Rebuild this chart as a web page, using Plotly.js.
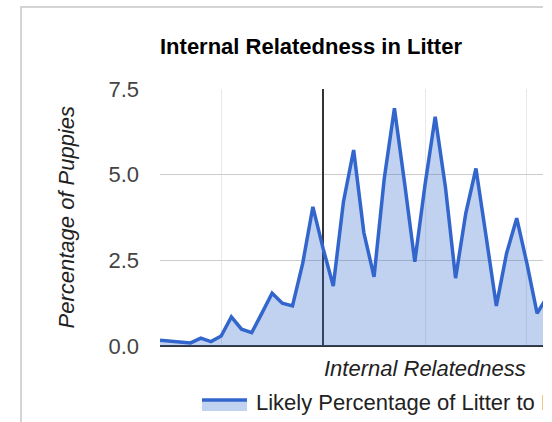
<!DOCTYPE html>
<html>
<head>
<meta charset="utf-8">
<script src="https://cdn.plot.ly/plotly-3.0.1.min.js"></script>
<style>
  html, body { margin: 0; padding: 0; background: #fff; }
  #clip { position: relative; width: 543px; height: 422px; overflow: hidden; }
  #chart { position: absolute; left: 0; top: 0; width: 720px; height: 422px; }
  #frame { position: absolute; left: 20px; top: 6px; width: 800px; height: 600px;
           border-left: 2px solid #d4d4d4; border-top: 2px solid #d4d4d4; pointer-events: none; }
</style>
</head>
<body>
<div id="clip">
  <div id="chart"></div>
  <div id="frame"></div>
</div>
<script>
// ---- data ----
const relatedness = [-0.16, -0.15, -0.14, -0.13, -0.12, -0.11, -0.10, -0.09, -0.08, -0.07,
                     -0.06, -0.05, -0.04, -0.03, -0.02, -0.01, 0.00, 0.01, 0.02, 0.03,
                     0.04, 0.05, 0.06, 0.07, 0.08, 0.09, 0.10, 0.11, 0.12, 0.13,
                     0.14, 0.15, 0.16, 0.17, 0.18, 0.19, 0.20, 0.21, 0.22];
const percentPuppies = [0.17, 0.15, 0.12, 0.09, 0.23, 0.13, 0.29, 0.85, 0.49, 0.39,
                        0.96, 1.54, 1.25, 1.17, 2.41, 4.06, 2.85, 1.75, 4.21, 5.72,
                        3.31, 2.02, 4.88, 6.94, 4.75, 2.46, 4.7, 6.69, 4.65, 1.98,
                        3.87, 5.18, 3.19, 1.17, 2.7, 3.73, 2.41, 0.95, 1.45];
const yTickVals = [0, 2.5, 5, 7.5];
const yTickText = ['0.0', '2.5', '5.0', '7.5'];
const chartTitle = 'Internal Relatedness in Litter';
const xTitle = 'Internal Relatedness';
const yTitle = 'Percentage of Puppies';
const seriesName = 'Likely Percentage of Litter to Have Internal Relatedness';

const FONT = 'Arial, "Liberation Sans", sans-serif';
const LINE = '#3366cc';
const FILL = 'rgba(51,102,204,0.3)';

// plot area geometry (pixels in the 720px wide figure)
const L = 160, R = 690, T = 89, B = 346;
const px = v => (v - L) / (R - L);
const py = v => (B - v) / (B - T);

const trace = {
  type: 'scatter', mode: 'lines',
  x: relatedness, y: percentPuppies,
  name: seriesName,
  fill: 'tozeroy', fillcolor: FILL,
  line: { color: LINE, width: 3.5 },
  hoverinfo: 'skip'
};

const layout = {
  width: 720, height: 422,
  margin: { l: L, r: 720 - R, t: T, b: 422 - B, pad: 0 },
  paper_bgcolor: '#fff', plot_bgcolor: '#fff',
  showlegend: false,
  font: { family: FONT, size: 22, color: '#222' },
  title: {
    text: '<b>' + chartTitle + '</b>',
    font: { family: FONT, size: 22, color: '#000' },
    xref: 'paper', x: 0, xanchor: 'left',
    yref: 'container', y: 1 - 46 / 422, yanchor: 'middle'
  },
  xaxis: {
    range: [-0.16, 0.36],
    tick0: 0, dtick: 0.1,
    showticklabels: false, ticks: '',
    showgrid: true, gridcolor: '#e8e8e8', gridwidth: 1,
    zeroline: true, zerolinecolor: '#333', zerolinewidth: 1.5,
    showline: false, fixedrange: true
  },
  yaxis: {
    range: [0, 7.5],
    tickvals: yTickVals, ticktext: yTickText,
    tickfont: { family: FONT, size: 22, color: '#444' },
    ticks: '', ticklabelstandoff: 20,
    showgrid: true, gridcolor: '#cccccc', gridwidth: 1,
    zeroline: true, zerolinecolor: '#333', zerolinewidth: 1.5,
    showline: false, fixedrange: true
  },
  annotations: [
    { text: yTitle, xref: 'paper', yref: 'paper', x: px(66), y: 0.5,
      xanchor: 'center', yanchor: 'middle', textangle: -90, showarrow: false,
      font: { family: FONT, size: 22, color: '#222', style: 'italic' } },
    { text: xTitle, xref: 'paper', yref: 'paper', x: px(425), y: py(368),
      xanchor: 'center', yanchor: 'middle', showarrow: false,
      font: { family: FONT, size: 22, color: '#222', style: 'italic' } },
    { text: seriesName, xref: 'paper', yref: 'paper', x: px(254), y: py(402),
      xanchor: 'left', yanchor: 'middle', showarrow: false,
      font: { family: FONT, size: 22, color: '#222' } }
  ],
  shapes: [
    { type: 'rect', xref: 'paper', yref: 'paper',
      x0: px(202), x1: px(247), y0: py(411), y1: py(401),
      fillcolor: FILL, line: { width: 0 } },
    { type: 'line', xref: 'paper', yref: 'paper',
      x0: px(202), x1: px(247), y0: py(400), y1: py(400),
      line: { color: LINE, width: 3.5 } }
  ]
};

Plotly.newPlot('chart', [trace], layout, { staticPlot: true, displayModeBar: false });
</script>
</body>
</html>
